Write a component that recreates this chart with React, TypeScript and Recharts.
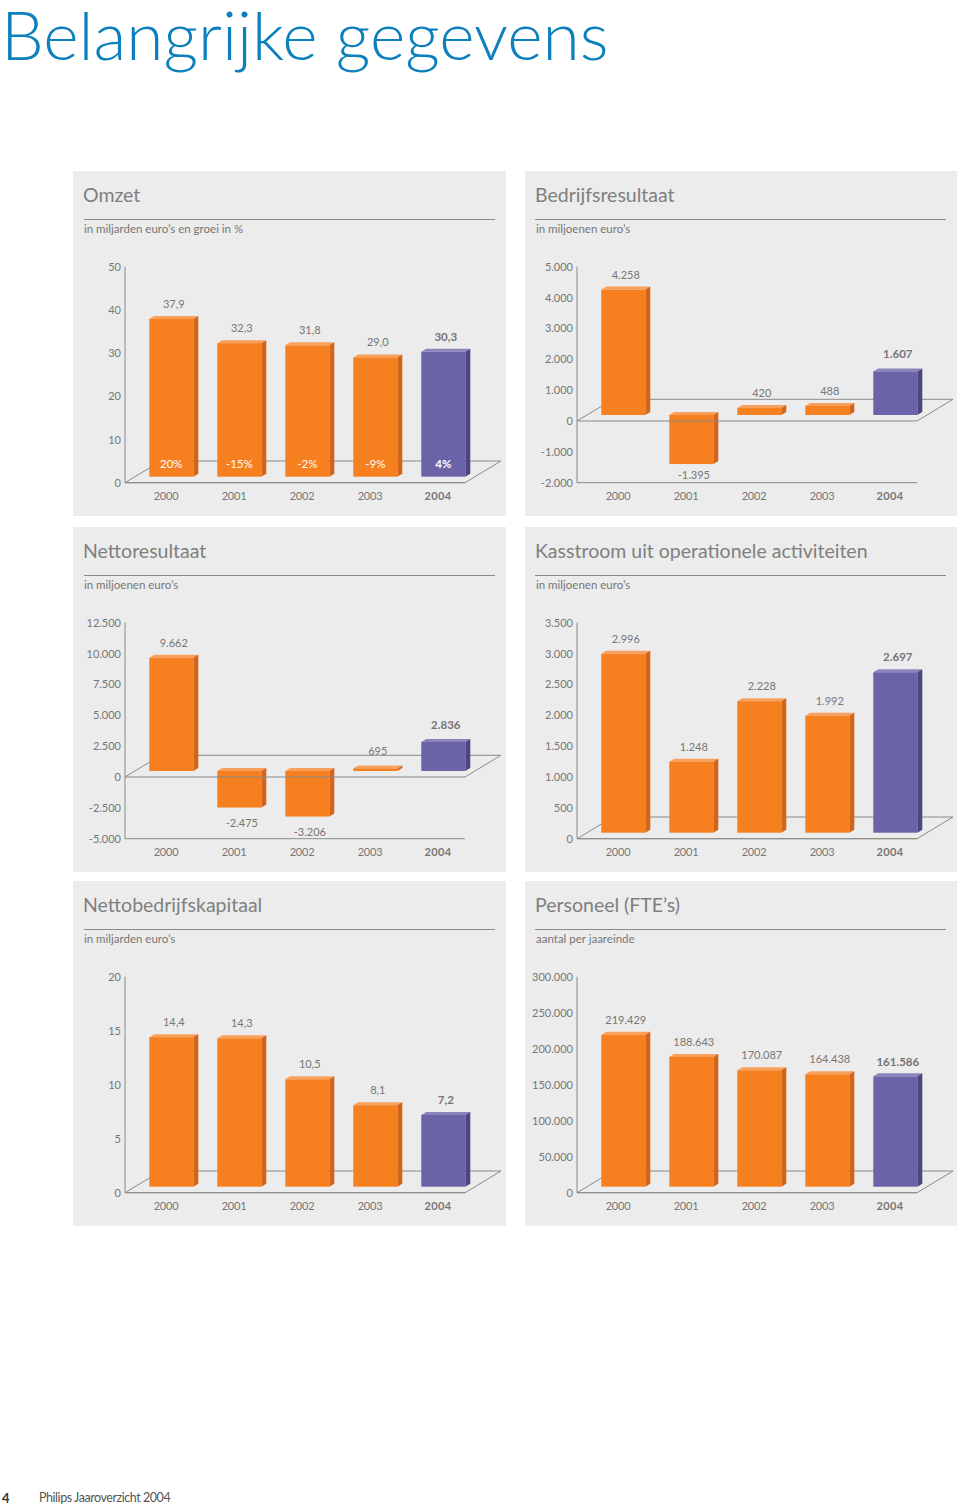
import React from 'react';
import { BarChart, Bar, XAxis, YAxis, ReferenceLine, LabelList } from 'recharts';

const years = ['2000', '2001', '2002', '2003', '2004'];

const omzetValues = [37.9, 32.3, 31.8, 29.0, 30.3];
const omzetLabels = ['37,9', '32,3', '31,8', '29,0', '30,3'];
const omzetGrowth = ['20%', '-15%', '-2%', '-9%', '4%'];
const omzetTicks = [0, 10, 20, 30, 40, 50];

const bedrijfValues = [4258, -1395, 420, 488, 1607];
const bedrijfLabels = ['4.258', '-1.395', '420', '488', '1.607'];
const bedrijfTicks = [-2000, -1000, 0, 1000, 2000, 3000, 4000, 5000];

const nettoValues = [9662, -2475, -3206, 695, 2836];
const nettoLabels = ['9.662', '-2.475', '-3.206', '695', '2.836'];
const nettoTicks = [-5000, -2500, 0, 2500, 5000, 7500, 10000, 12500];

const kasValues = [2996, 1248, 2228, 1992, 2697];
const kasLabels = ['2.996', '1.248', '2.228', '1.992', '2.697'];
const kasTicks = [0, 500, 1000, 1500, 2000, 2500, 3000, 3500];

const kapitaalValues = [14.4, 14.3, 10.5, 8.1, 7.2];
const kapitaalLabels = ['14,4', '14,3', '10,5', '8,1', '7,2'];
const kapitaalTicks = [0, 5, 10, 15, 20];

const fteValues = [219429, 188643, 170087, 164438, 161586];
const fteLabels = ['219.429', '188.643', '170.087', '164.438', '161.586'];
const fteTicks = [0, 50000, 100000, 150000, 200000, 250000, 300000];

const FONT = 'Lato, sans-serif';
const GREY = '#767676';
const LINE = '#8a8a8a';
const ORANGE = { front: '#f6801f', side: '#d0661b', top: '#f9a05c' };
const PURPLE = { front: '#6b63a8', side: '#4c467f', top: '#8b84bd' };

const BAR_W = 44;
const BAR_DX = 12.3;
const FLOOR_W = 340;

const fmt = (v: number) => String(v).replace(/\B(?=(\d{3})+$)/g, '.');

// 3D block, front face stops 6px above the zero line just like the printed one
function Block3D(props: any) {
  const { x, y, height, index, value } = props;
  const v = Array.isArray(value) ? value[1] - value[0] : value;
  const colors = index === 4 ? PURPLE : ORANGE;
  const a = Math.min(y, y + height);
  const b = Math.max(y, y + height);
  const zero = v >= 0 ? b : a;
  const top = v >= 0 ? a : zero - 6;
  const bottom = v >= 0 ? zero - 6 : b;
  const l = x + BAR_DX;
  const r = l + BAR_W;
  return (
    <g>
      <polygon points={`${l},${top} ${r},${top} ${r + 5},${top - 3} ${l + 5},${top - 3}`} fill={colors.top} />
      <polygon points={`${r},${top} ${r + 5},${top - 3} ${r + 5},${bottom - 3} ${r},${bottom}`} fill={colors.side} />
      <rect x={l} y={top} width={BAR_W} height={bottom - top} fill={colors.front} />
    </g>
  );
}

// back edge and the two diagonals, these sit behind the bars
function Floor(props: any) {
  const { x1, y1 } = props;
  const depthX = 36;
  const depthY = 21.7;
  return (
    <g fill="none" stroke={LINE} strokeWidth={1}>
      <line x1={x1 + depthX} y1={y1 - depthY} x2={x1 + FLOOR_W + depthX} y2={y1 - depthY} />
      <line x1={x1} y1={y1} x2={x1 + depthX} y2={y1 - depthY} />
      <line x1={x1 + FLOOR_W} y1={y1} x2={x1 + FLOOR_W + depthX} y2={y1 - depthY} />
    </g>
  );
}

function YearTick(props: any) {
  const { x, y, payload } = props;
  const bold = payload.value === '2004';
  return (
    <text
      x={x + 7}
      y={y + 9}
      textAnchor="middle"
      fontFamily={FONT}
      fontSize={11}
      letterSpacing={bold ? 0.4 : -0.2}
      fontWeight={bold ? 700 : 400}
      fill={GREY}
    >
      {payload.value}
    </text>
  );
}

function ValueTick(props: any) {
  const { x, y, payload } = props;
  return (
    <text x={x + 4} y={y + 4} textAnchor="end" fontFamily={FONT} fontSize={11} fill={GREY}>
      {fmt(payload.value)}
    </text>
  );
}

function ChartPanel(props: {
  left: number;
  top: number;
  width?: number;
  title: string;
  subtitle: string;
  values: number[];
  labels: string[];
  ticks: number[];
  growth?: string[];
  belowGap?: number;
  shift?: number[];
}) {
  const { left, top, width = 433, title, subtitle, values, labels, ticks, growth, belowGap = 14, shift } = props;
  const height = 345;
  const data = years.map((year, i) => ({ year, value: values[i], label: labels[i], growth: growth ? growth[i] : '' }));

  const renderValue = (p: any) => {
    const { x, y, height: h, index } = p;
    const v = values[index];
    const a = Math.min(y, y + h);
    const b = Math.max(y, y + h);
    const ly = (v >= 0 ? a - 11 : b + belowGap + 4) + (shift ? shift[index] : 0);
    return (
      <text
        x={x + BAR_DX + BAR_W / 2 + 2.5}
        y={ly}
        textAnchor="middle"
        fontFamily={FONT}
        fontSize={index === 4 ? 11.5 : 11}
        fontWeight={index === 4 ? 700 : 400}
        fill={GREY}
      >
        {labels[index]}
      </text>
    );
  };

  const renderGrowth = (p: any) => {
    const { x, y, height: h, index } = p;
    return (
      <text
        x={x + BAR_DX + BAR_W / 2}
        y={Math.max(y, y + h) - 14.5}
        textAnchor="middle"
        fontFamily={FONT}
        fontSize={11.5}
        fontWeight={index === 4 ? 700 : 400}
        fill="#ffffff"
      >
        {growth ? growth[index] : ''}
      </text>
    );
  };

  return (
    <div style={{ position: 'absolute', left, top, width, height, background: '#ececec' }}>
      <div style={{ position: 'absolute', left: 10, top: 10, fontFamily: FONT, fontSize: 19.5, color: '#7f7f7f', lineHeight: '28px', whiteSpace: 'nowrap' }}>
        {title}
      </div>
      <div style={{ position: 'absolute', left: width === 433 ? 11 : 10, top: 48, width: 411, height: 1, background: LINE }} />
      <div style={{ position: 'absolute', left: 11, top: 50, fontFamily: FONT, fontSize: 11.5, color: GREY, lineHeight: '16px', whiteSpace: 'nowrap' }}>
        {subtitle}
      </div>
      <div style={{ position: 'absolute', left: 0, top: 0 }}>
        <BarChart
          width={433}
          height={height}
          data={data}
          barSize={BAR_W}
          margin={{ top: 95.7, right: 41, bottom: 0, left: 0 }}
          style={{ overflow: 'visible' }}
        >
          <ReferenceLine y={0} shape={<Floor />} ifOverflow="visible" zIndex={100} />
          <ReferenceLine y={0} stroke={LINE} strokeWidth={1} />
          <XAxis dataKey="year" axisLine={{ stroke: LINE }} tickLine={false} height={height - 95.7 - 216} interval={0} tick={<YearTick />} />
          <YAxis
            type="number"
            width={52}
            domain={[ticks[0], ticks[ticks.length - 1]]}
            ticks={ticks}
            interval={0}
            axisLine={{ stroke: LINE }}
            tickLine={false}
            tick={<ValueTick />}
          />
          <Bar dataKey="value" shape={<Block3D />} isAnimationActive={false}>
            <LabelList dataKey="label" content={renderValue} />
            {growth ? <LabelList dataKey="growth" content={renderGrowth} /> : null}
          </Bar>
        </BarChart>
      </div>
    </div>
  );
}

export default function App() {
  return (
    <div style={{ position: 'absolute', left: 0, top: 0, width: 960, height: 1506, overflow: 'hidden', background: '#ffffff' }}>
      <div style={{ position: 'absolute', left: 1, top: 3, fontFamily: FONT, fontWeight: 300, fontSize: 67.7, lineHeight: '62px', color: '#0c80bd', whiteSpace: 'nowrap' }}>
        Belangrijke gegevens
      </div>

      <ChartPanel left={73} top={171} title="Omzet" subtitle="in miljarden euro’s en groei in %" values={omzetValues} labels={omzetLabels} ticks={omzetTicks} growth={omzetGrowth} />
      <ChartPanel left={525} top={171} width={432} title="Bedrijfsresultaat" subtitle="in miljoenen euro’s" values={bedrijfValues} labels={bedrijfLabels} ticks={bedrijfTicks} belowGap={11} shift={[0, 0, 0, 0, -2]} />
      <ChartPanel left={73} top={527} title="Nettoresultaat" subtitle="in miljoenen euro’s" values={nettoValues} labels={nettoLabels} ticks={nettoTicks} belowGap={15} shift={[0, 0, 0, -2, -2]} />
      <ChartPanel left={525} top={527} width={432} title="Kasstroom uit operationele activiteiten" subtitle="in miljoenen euro’s" values={kasValues} labels={kasLabels} ticks={kasTicks} />
      <ChartPanel left={73} top={881} title="Nettobedrijfskapitaal" subtitle="in miljarden euro’s" values={kapitaalValues} labels={kapitaalLabels} ticks={kapitaalTicks} />
      <ChartPanel left={525} top={881} width={432} title="Personeel (FTE’s)" subtitle="aantal per jaareinde" values={fteValues} labels={fteLabels} ticks={fteTicks} shift={[0, 0, 0, 0, 1]} />

      <div style={{ position: 'absolute', left: 2, top: 1489, fontFamily: FONT, fontWeight: 700, fontSize: 13, lineHeight: '18px', color: '#333333' }}>4</div>
      <div style={{ position: 'absolute', left: 39, top: 1489, fontFamily: FONT, fontSize: 12.5, letterSpacing: -0.45, lineHeight: '18px', color: '#555555', whiteSpace: 'nowrap' }}>
        Philips Jaaroverzicht 2004
      </div>
    </div>
  );
}
